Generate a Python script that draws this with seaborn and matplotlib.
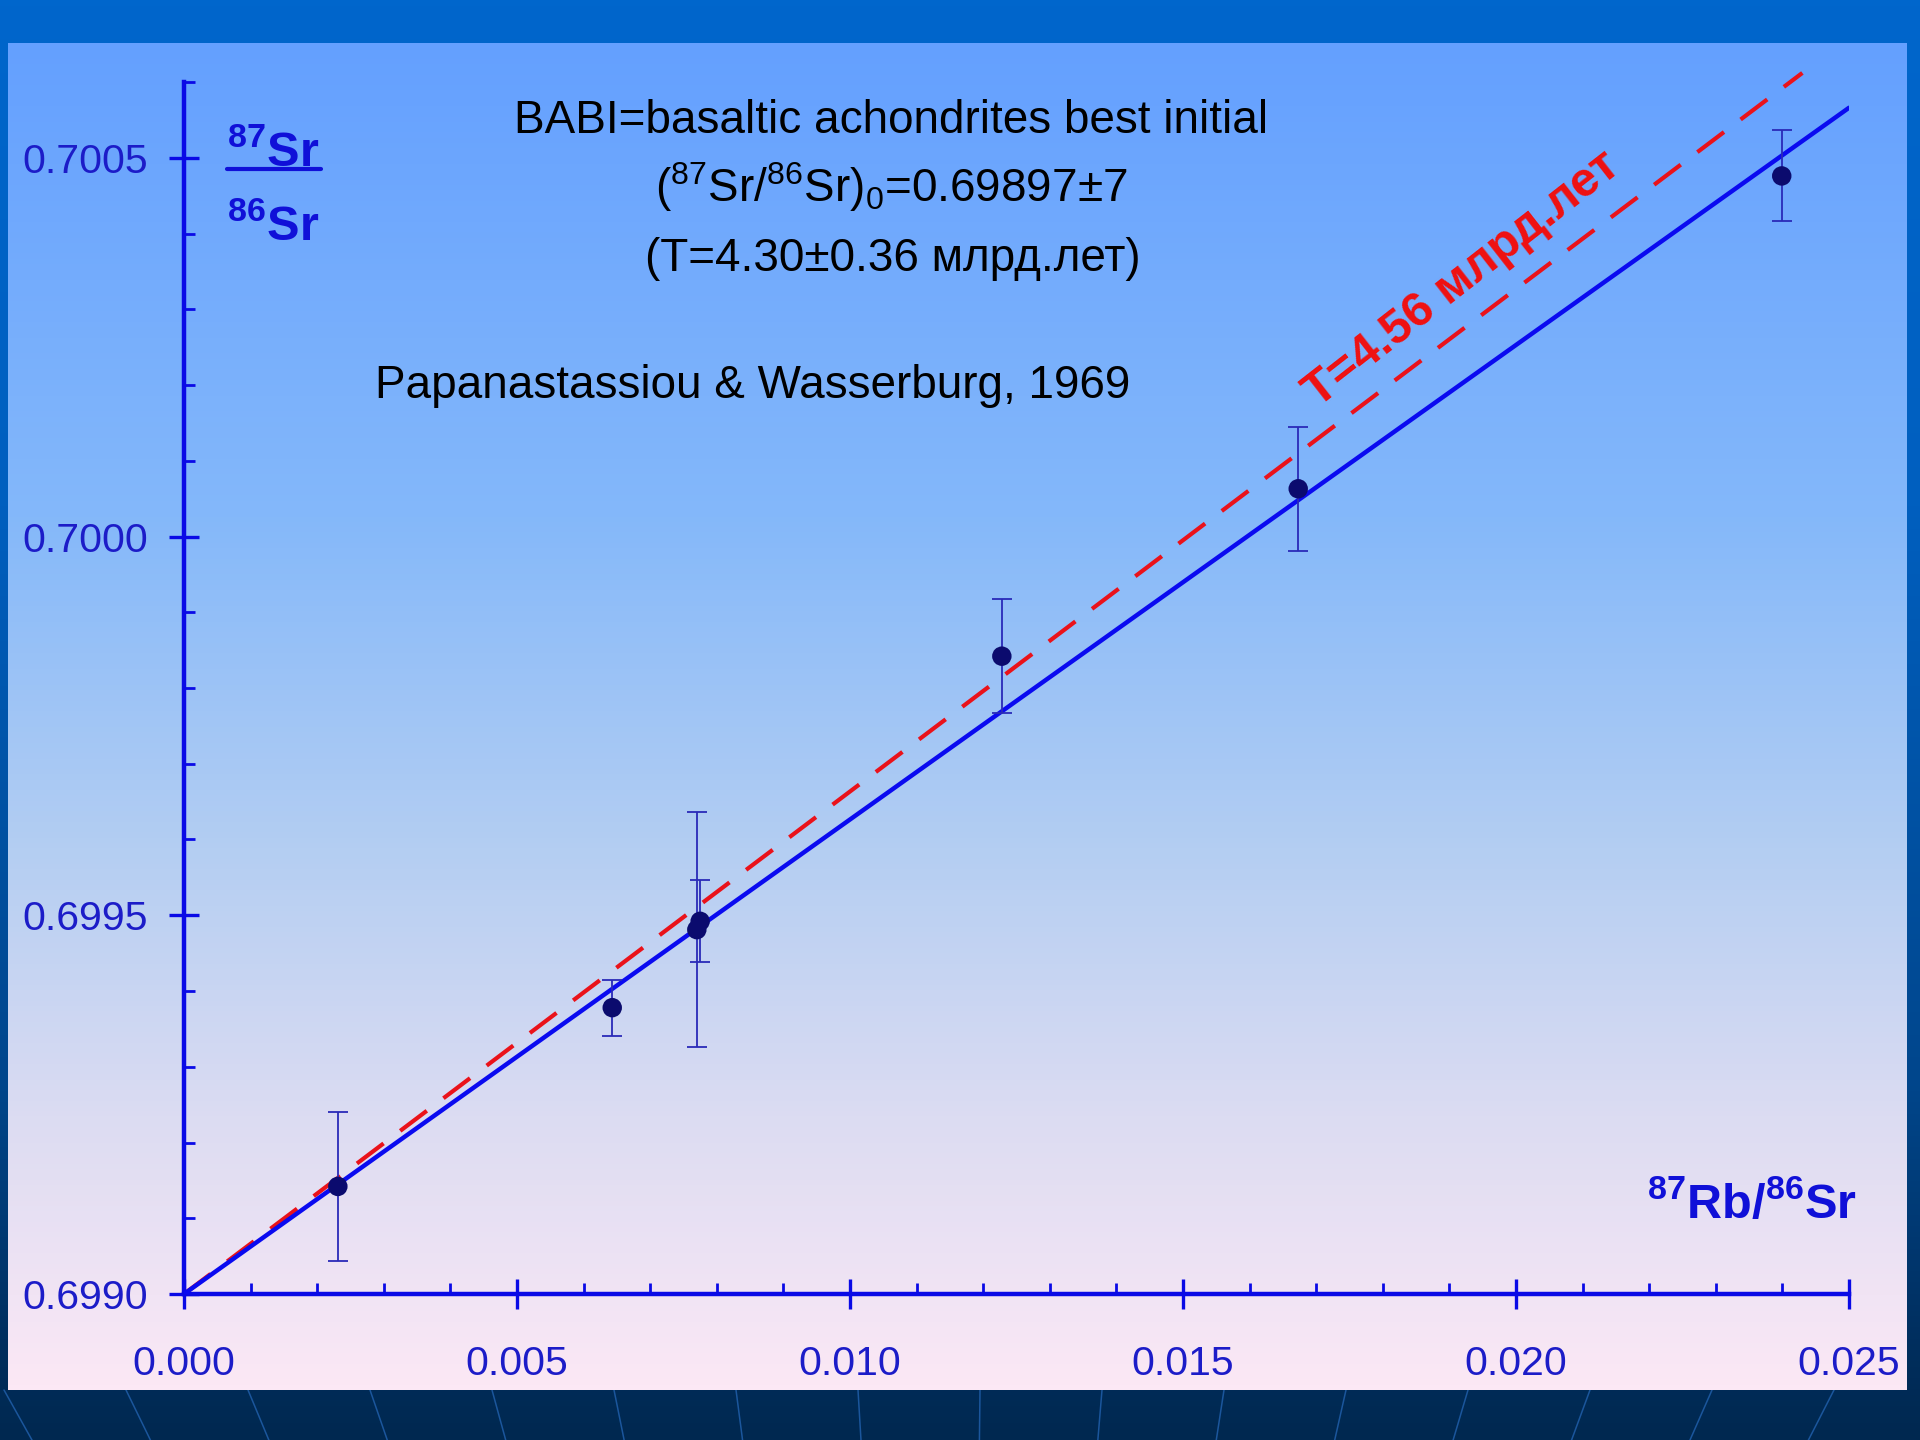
import numpy as np
import matplotlib
matplotlib.use("Agg")
import matplotlib.pyplot as plt
import seaborn as sns
from matplotlib.colors import LinearSegmentedColormap
from matplotlib.lines import Line2D
from matplotlib.ticker import MultipleLocator, FormatStrFormatter

# ===== DATA =====
rb_sr = [0.00231, 0.00643, 0.00770, 0.00775, 0.01228, 0.01673, 0.02399]
sr_sr = [0.699142, 0.699378, 0.699481, 0.699492, 0.699842, 0.700063, 0.700476]
sr_err = [0.000098, 0.000037, 0.000155, 0.000054, 0.000075, 0.000082, 0.000060]

# fitted isochron (T=4.30) and reference line (T=4.56)
isochron_x = [0.0, 0.025]
isochron_y = [0.6990, 0.700566]
ref_x = [0.0, 0.0243]
ref_y = [0.6990, 0.700612]

x_ticks = [0.000, 0.005, 0.010, 0.015, 0.020, 0.025]
y_ticks = [0.6990, 0.6995, 0.7000, 0.7005]

# ===== STYLE =====
sns.set_style("ticks")
plt.rcParams["font.family"] = ["Liberation Sans", "DejaVu Sans"]
plt.rcParams["mathtext.default"] = "regular"

W, H = 1920, 1440
axis_blue = "#0a0ae6"
label_blue = "#1c1cc8"
title_blue = "#1010d8"


def fpos(x, y):
    # pixel position on the slide -> figure fraction
    return x / W, 1 - y / H


fig = plt.figure(figsize=(19.2, 14.4), dpi=100)

# ===== SLIDE BACKGROUND =====
bg = fig.add_axes([0, 0, 1, 1], zorder=-5)
bg.set_xlim(0, W)
bg.set_ylim(H, 0)
bg.axis("off")

grad = np.linspace(0, 1, 256).reshape(-1, 1)
outer_cmap = LinearSegmentedColormap.from_list(
    "outer",
    [(0, "#0066cc"), (0.35, "#005fbf"), (0.75, "#00468c"), (0.965, "#002b57"), (1, "#002850")]
)
bg.imshow(grad, cmap=outer_cmap, extent=(0, W, H, 0), aspect="auto", zorder=0)

# fan lines on the dark strip below the panel
vp_x, vp_y = 960, 3100
for x0 in np.arange(-240, 2200, 122):
    bg.plot([x0, vp_x], [1390, vp_y], color="#1b569c", lw=1.1, zorder=1)

panel_cmap = LinearSegmentedColormap.from_list(
    "panel",
    [(0, "#64a0ff"), (0.35, "#84b8fa"), (0.6, "#b4cef2"), (0.8, "#dcdcf2"), (1, "#fce8f5")]
)
bg.imshow(grad, cmap=panel_cmap, extent=(8, 1907, 1390, 43), aspect="auto", zorder=2)

# ===== MAIN AXES =====
ax = fig.add_axes([184 / W, 1 - 1294 / H, (1849 - 184) / W, (1294 - 82) / H])
ax.patch.set_alpha(0)

sns.lineplot(x=ref_x, y=ref_y, ax=ax, color="#ea121a", lw=3,
             linestyle=(0, (8, 5)), clip_on=False, zorder=2)
sns.lineplot(x=isochron_x, y=isochron_y, ax=ax, color="#0a0af0", lw=3.2, zorder=3)
ax.errorbar(rb_sr, sr_sr, yerr=sr_err, fmt="none", ecolor="#2a2ab8",
            elinewidth=1.3, capsize=7, capthick=1.3, zorder=4)
sns.scatterplot(x=rb_sr, y=sr_sr, ax=ax, color="#0b0b6e", s=14 ** 2,
                edgecolor="none", zorder=5)

ax.set_xlim(0, 0.025)
ax.set_ylim(0.6990, 0.7006)
ax.set_xticks(x_ticks)
ax.set_yticks(y_ticks)
ax.xaxis.set_minor_locator(MultipleLocator(0.001))
ax.yaxis.set_minor_locator(MultipleLocator(0.0001))
ax.xaxis.set_major_formatter(FormatStrFormatter("%.3f"))
ax.yaxis.set_major_formatter(FormatStrFormatter("%.4f"))
ax.set_xlabel("")
ax.set_ylabel("")

for side in ["top", "right"]:
    ax.spines[side].set_visible(False)
for side in ["left", "bottom"]:
    ax.spines[side].set_color(axis_blue)
    ax.spines[side].set_linewidth(3.2)

ax.tick_params(which="major", direction="inout", length=22, width=2.4,
               color=axis_blue, labelcolor=label_blue, labelsize=29.5)
ax.tick_params(axis="x", which="major", pad=26)
ax.tick_params(axis="y", which="major", pad=15)
ax.tick_params(which="minor", direction="in", length=8, width=2, color=axis_blue)

# ===== TEXT =====
ax.text(0.0192, 0.70034, "T=4.56 млрд.лет", rotation=38, rotation_mode="anchor",
        ha="center", va="center", fontsize=35, fontweight="bold", color="#f01010")

fig.text(*fpos(891, 133), "BABI=basaltic achondrites best initial",
         ha="center", va="baseline", fontsize=33, color="black")
fig.text(*fpos(891, 202), r"($^{87}$Sr/$^{86}$Sr)$_0$=0.69897±7",
         ha="center", va="baseline", fontsize=33, color="black")
fig.text(*fpos(893, 271), "(T=4.30±0.36 млрд.лет)",
         ha="center", va="baseline", fontsize=33, color="black")
fig.text(*fpos(753, 398), "Papanastassiou & Wasserburg, 1969",
         ha="center", va="baseline", fontsize=33, color="black")

# y label as a fraction
fig.text(*fpos(227, 166), r"$^{87}$Sr", ha="left", va="baseline",
         fontsize=35, fontweight="bold", color=title_blue)
fig.text(*fpos(227, 240), r"$^{86}$Sr", ha="left", va="baseline",
         fontsize=35, fontweight="bold", color=title_blue)
fig.add_artist(Line2D([227 / W, 321 / W], [1 - 169 / H, 1 - 169 / H],
                      lw=3, color=title_blue))

# x label
fig.text(*fpos(1857, 1218), r"$^{87}$Rb/$^{86}$Sr", ha="right", va="baseline",
         fontsize=35, fontweight="bold", color=title_blue)

fig.savefig("out.png", dpi=100)
